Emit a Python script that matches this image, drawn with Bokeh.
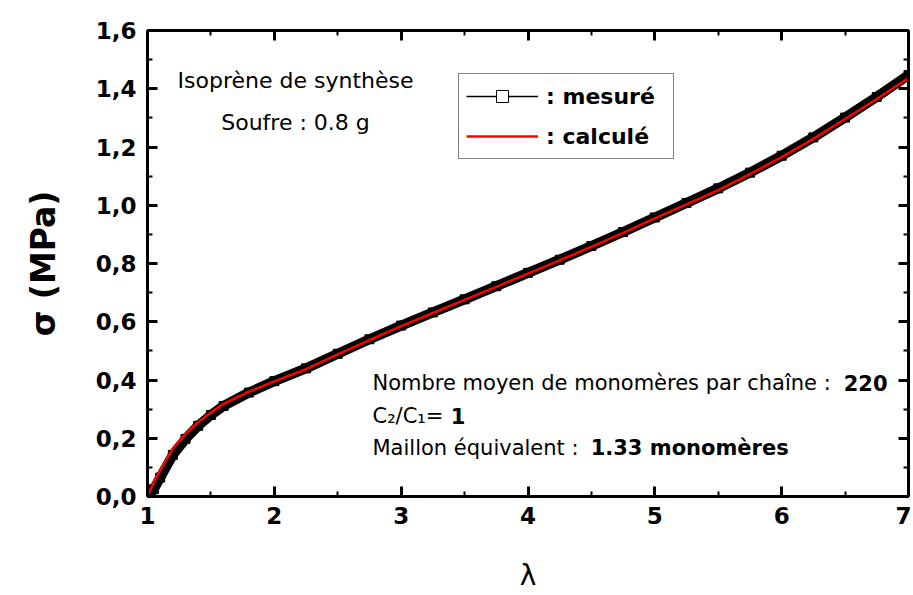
from bokeh.plotting import figure
from bokeh.models import (Range1d, LinearAxis, SingleIntervalTicker, CustomJSTickFormatter,
                          Label, Legend, LegendItem, ColumnDataSource)
from bokeh.embed import file_html
from bokeh.resources import INLINE

# ---- data ----
lam = [1.0, 1.05, 1.1, 1.2, 1.3, 1.4, 1.5, 1.6, 1.8, 2.0, 2.25, 2.5, 2.75, 3.0, 3.25,
       3.5, 3.75, 4.0, 4.25, 4.5, 4.75, 5.0, 5.25, 5.5, 5.75, 6.0, 6.25, 6.5, 6.75, 7.0]
sigma_mesure = [0.0, 0.025, 0.065, 0.143, 0.198, 0.243, 0.28, 0.311, 0.357, 0.396, 0.44, 0.49,
                0.54, 0.587, 0.632, 0.677, 0.722, 0.768, 0.813, 0.86, 0.908, 0.958, 1.008,
                1.058, 1.112, 1.17, 1.233, 1.301, 1.372, 1.447]
sigma_calcule = [0.0, 0.05, 0.09, 0.165, 0.215, 0.255, 0.288, 0.318, 0.36, 0.395, 0.437, 0.488,
                 0.537, 0.585, 0.63, 0.675, 0.72, 0.765, 0.811, 0.857, 0.905, 0.955, 1.003,
                 1.052, 1.107, 1.165, 1.228, 1.296, 1.365, 1.437]

x_label = "λ"
y_label = "σ (MPa)"
legend_labels = [": mesuré", ": calculé"]
note_top = ["Isoprène de synthèse", "Soufre : 0.8 g"]
note_bottom_regular = ["Nombre moyen de monomères par chaîne : ", "C₂/C₁= ", "Maillon équivalent :  "]
note_bottom_bold = ["220", "1", "1.33 monomères"]

FONT = "DejaVu Sans"

p = figure(width=911, height=594, output_backend="svg", toolbar_location=None,
           x_range=Range1d(1, 7), y_range=Range1d(0, 1.6),
           x_axis_location=None, y_axis_location=None,
           min_border_left=147, min_border_right=3, min_border_top=30, min_border_bottom=98)
p.xgrid.visible = False
p.ygrid.visible = False
p.outline_line_color = None
p.background_fill_color = "white"
p.border_fill_color = "white"

yfmt = CustomJSTickFormatter(code="return tick.toFixed(1).replace('.', ',');")
blank = CustomJSTickFormatter(code="return '';")


def style(ax, labels=True):
    ax.axis_line_width = 3
    ax.axis_line_color = "black"
    ax.major_tick_line_width = 3
    ax.minor_tick_line_width = 2
    ax.major_tick_in = 10
    ax.major_tick_out = 0
    ax.minor_tick_in = 5
    ax.minor_tick_out = 0
    ax.major_label_text_font = FONT
    ax.major_label_text_font_style = "bold"
    ax.major_label_text_font_size = "23px"
    ax.major_label_text_color = "black"
    if not labels:
        ax.major_label_standoff = 0
    return ax


xb = style(LinearAxis(ticker=SingleIntervalTicker(interval=1, num_minor_ticks=2)))
xb.major_label_standoff = 10
xb.axis_label = x_label
xb.axis_label_text_font = FONT
xb.axis_label_text_font_style = "normal"
xb.axis_label_text_font_size = "28px"
xb.axis_label_text_color = "black"
xb.axis_label_standoff = 32
p.add_layout(xb, "below")

yl = style(LinearAxis(ticker=SingleIntervalTicker(interval=0.2, num_minor_ticks=2), formatter=yfmt))
yl.major_label_standoff = 11
yl.axis_label = y_label
yl.axis_label_text_font = FONT
yl.axis_label_text_font_style = "bold"
yl.axis_label_text_font_size = "33px"
yl.axis_label_text_color = "black"
yl.axis_label_standoff = 30
p.add_layout(yl, "left")

xt = style(LinearAxis(ticker=SingleIntervalTicker(interval=1, num_minor_ticks=2), formatter=blank), False)
p.add_layout(xt, "above")
yr = style(LinearAxis(ticker=SingleIntervalTicker(interval=0.2, num_minor_ticks=2), formatter=blank), False)
p.add_layout(yr, "right")

src_m = ColumnDataSource(dict(x=lam, y=sigma_mesure))
src_c = ColumnDataSource(dict(x=lam, y=sigma_calcule))

p.line("x", "y", source=src_m, line_color="black", line_width=10, line_join="round")
p.scatter("x", "y", source=src_m, marker="square", size=9, fill_color="black", line_color="black")
r_calc = p.line("x", "y", source=src_c, line_color="#ff0000", line_width=2.5)

# legend-only renderers (thin line with hollow square)
r_leg_line = p.line("x", "y", source=src_m, line_color="black", line_width=1.5, visible=False)
r_leg_sq = p.scatter("x", "y", source=src_m, marker="square", size=7, fill_color="white",
                     line_color="black", line_width=1, visible=False)

legend = Legend(items=[LegendItem(label=legend_labels[0], renderers=[r_leg_line, r_leg_sq]),
                       LegendItem(label=legend_labels[1], renderers=[r_calc])],
                location=(311, 337), orientation="vertical",
                glyph_width=72, glyph_height=30, label_width=120, label_height=30,
                label_standoff=8, padding=7, spacing=10, margin=0,
                border_line_color="black", border_line_width=1.5,
                background_fill_color="white", background_fill_alpha=1,
                label_text_font=FONT, label_text_font_style="bold", label_text_color="black",
                label_text_font_size="22px", click_policy="none")
p.add_layout(legend, "center")

# annotations
for txt, yv in zip(note_top, [1.428, 1.284]):
    p.add_layout(Label(x=2.167, y=yv, text=txt, text_font=FONT, text_font_size="22px",
                       text_align="center", text_baseline="middle", text_color="black"))

for txt, xv, yv in zip(note_bottom_regular, [2.774, 2.774, 2.774], [0.388, 0.278, 0.168]):
    p.add_layout(Label(x=xv, y=yv, text=txt, text_font=FONT, text_font_size="21px",
                       text_align="left", text_baseline="middle", text_color="black"))
for txt, xv, yv in zip(note_bottom_bold, [6.489, 3.39, 4.494], [0.388, 0.278, 0.168]):
    p.add_layout(Label(x=xv, y=yv, text=txt, text_font=FONT, text_font_size="21px",
                       text_font_style="bold", text_align="left", text_baseline="middle",
                       text_color="black"))

open("out.html", "w").write(file_html(p, INLINE))
